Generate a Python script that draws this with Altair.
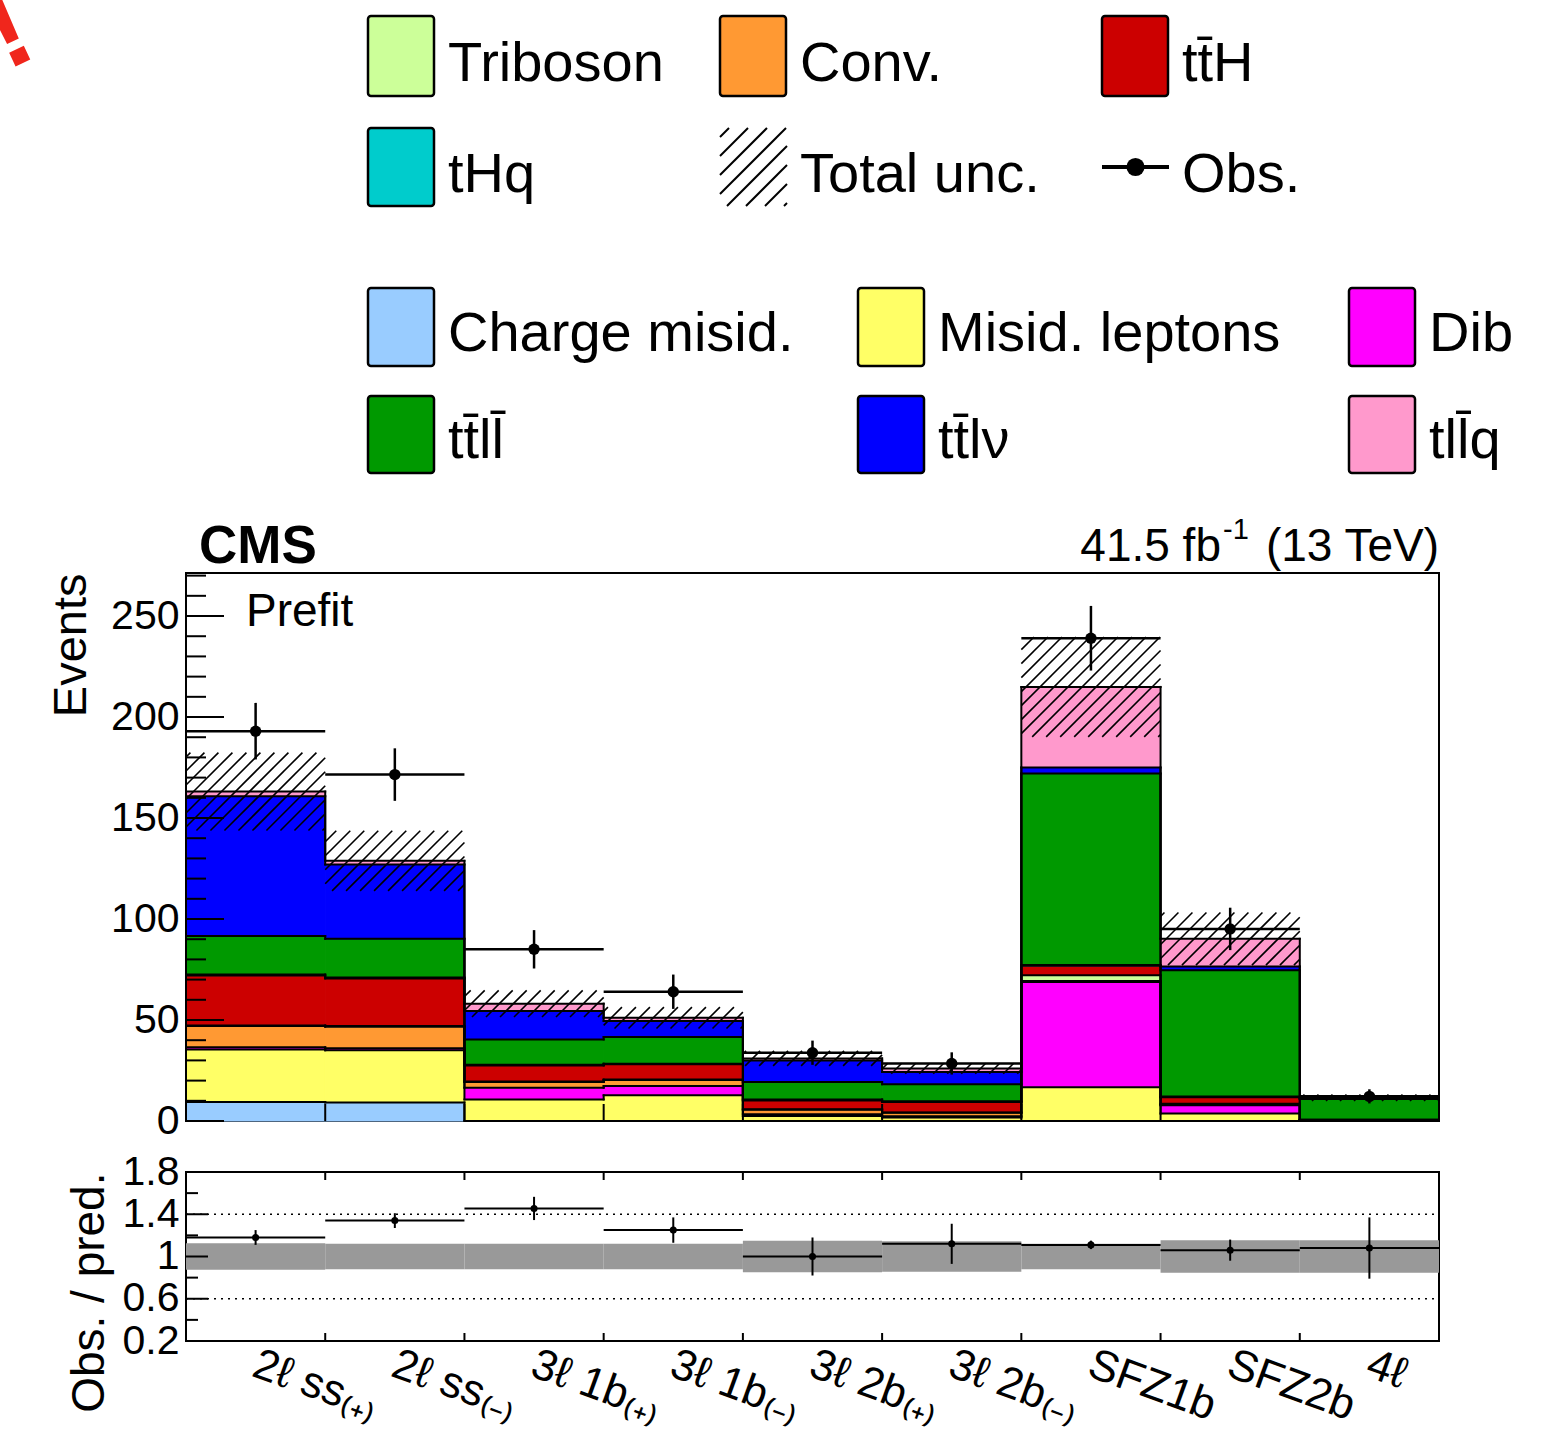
import altair as alt
import numpy as np
import pandas as pd

# ---------------- data ----------------
categories = ["2ℓ ss₍₊₎", "2ℓ ss₍₋₎", "3ℓ 1b₍₊₎", "3ℓ 1b₍₋₎",
              "3ℓ 2b₍₊₎", "3ℓ 2b₍₋₎", "SFZ1b", "SFZ2b", "4ℓ"]

process_names = ["Charge misid.", "Misid. leptons", "Diboson", "Conv.", "Triboson",
                 "tt\u0304H", "tHq", "tt\u0304ll\u0304", "tt\u0304lν", "tll\u0304q"]
process_colors = ["#99ccff", "#ffff66", "#ff00ff", "#ff9933", "#ccff99",
                  "#cc0000", "#00cccc", "#009900", "#0000ff", "#ff99cc"]

charge_misid  = [9.4, 9.2, 0.0, 0.0, 0.0, 0.0, 0.0, 0.0, 0.0]
misid_leptons = [26.0, 25.8, 10.7, 12.7, 2.5, 1.7, 16.7, 3.7, 0.1]
diboson       = [1.1, 1.0, 5.8, 4.6, 0.9, 0.6, 52.1, 4.1, 0.3]
conversions   = [10.5, 10.7, 2.8, 3.0, 2.2, 1.8, 0.5, 0.4, 0.0]
triboson      = [0.3, 0.3, 0.2, 0.2, 0.2, 0.1, 2.8, 0.3, 0.1]
tth           = [24.7, 23.6, 8.0, 7.6, 4.4, 5.2, 4.7, 3.2, 0.1]
thq           = [0.5, 0.4, 0.4, 0.3, 0.5, 0.4, 0.4, 0.4, 0.0]
ttll          = [19.1, 19.2, 12.5, 13.2, 8.6, 8.4, 94.8, 62.5, 10.3]
ttlv          = [69.2, 36.8, 14.1, 7.9, 10.7, 6.1, 3.0, 1.9, 0.2]
tllq          = [2.3, 1.8, 3.6, 1.6, 1.0, 1.7, 39.9, 13.7, 0.4]

total_unc = [19.3, 14.9, 6.6, 5.3, 3.7, 2.6, 24.7, 13.0, 1.6]
obs       = [193.0, 171.5, 85.0, 64.0, 33.8, 28.5, 239.0, 95.1, 12.2]
obs_err   = [14.0, 13.0, 9.5, 8.5, 6.0, 5.5, 16.0, 10.5, 3.5]

ratio      = [1.18, 1.34, 1.455, 1.25, 1.0, 1.12, 1.11, 1.06, 1.08]
ratio_err  = [0.07, 0.07, 0.11, 0.12, 0.18, 0.19, 0.04, 0.10, 0.29]
ratio_band = [0.125, 0.12, 0.12, 0.12, 0.148, 0.145, 0.12, 0.155, 0.155]

main_y_ticks = [0, 50, 100, 150, 200, 250]
ratio_y_ticks = [0.2, 0.6, 1.0, 1.4, 1.8]

# ---------------- layout ----------------
FONT = "Liberation Sans"
W, H, RH = 1253, 548, 169
NB = len(categories)
YMAX = 271.3
RLO, RHI = 0.2, 1.8
GAP = 51
LEG_H = 572 - GAP
BW = W / NB
PY = H / YMAX

xs = alt.Scale(domain=[0, NB], nice=False, zero=False)
ys = alt.Scale(domain=[0, YMAX], nice=False, zero=False)
rs = alt.Scale(domain=[RLO, RHI], nice=False, zero=False)
cscale = alt.Scale(domain=process_names, range=process_colors)

yaxis_main = alt.Axis(values=main_y_ticks, format="d", ticks=False, tickSize=0, domain=False,
                      grid=False, labelFont=FONT, labelFontSize=41, labelColor="black",
                      labelPadding=7, labelOverlap=False, labelBound=False,
                      title="Events", titleFont=FONT, titleFontSize=47,
                      titleFontWeight="normal", titleColor="black", titleAngle=270,
                      titleAlign="right", titleBaseline="middle", titleX=-115, titleY=0)
yaxis_ratio = alt.Axis(values=ratio_y_ticks, format=".1~f", ticks=False, tickSize=0,
                       domain=False, grid=False, labelFont=FONT, labelFontSize=41,
                       labelColor="black", labelPadding=7, labelOverlap=False,
                       labelBound=False, title="Obs. / pred.", titleFont=FONT,
                       titleFontSize=46, titleFontWeight="normal", titleColor="black",
                       titleAngle=270, titleAlign="right", titleBaseline="middle",
                       titleX=-97, titleY=0)
label_expr = "[" + ",".join("'%s'" % c for c in categories) + "][floor(datum.value)]"
xaxis_ratio = alt.Axis(values=[i + 0.5 for i in range(NB)], labelExpr=label_expr,
                       ticks=False, tickSize=0, domain=False, grid=False,
                       labelFont=FONT, labelFontSize=44, labelColor="black",
                       labelAngle=20, labelAlign="left", labelBaseline="top",
                       labelPadding=1, labelOffset=6, labelOverlap=False, labelFlush=False,
                       labelBound=False, title=None)


def X(f):
    return alt.X(f, type="quantitative", scale=xs, axis=None)


def Y(f):
    return alt.Y(f, type="quantitative", scale=ys, axis=yaxis_main)


def RX(f):
    return alt.X(f, type="quantitative", scale=xs, axis=xaxis_ratio)


def RY(f):
    return alt.Y(f, type="quantitative", scale=rs, axis=yaxis_ratio)


def hatch_segments(rects, spacing):
    """Diagonal '/' hatch lines clipped to rectangles given in pixel units (v upward)."""
    segs = []
    for (u0, u1, v0, v1) in rects:
        k0 = int(np.ceil((v0 - u1) / spacing))
        k1 = int(np.floor((v1 - u0) / spacing))
        for k in range(k0, k1 + 1):
            c = k * spacing
            ua = max(u0, v0 - c)
            ub = min(u1, v1 - c)
            if ub - ua > 0.5:
                segs.append((ua, ua + c, ub, ub + c))
    return segs


# ---------------- derived tables ----------------
stack = np.array([charge_misid, misid_leptons, diboson, conversions, triboson,
                  tth, thq, ttll, ttlv, tllq])
tops = np.cumsum(stack, axis=0)
bots = tops - stack
total = tops[-1]

rect_rows, oh_rows, ov_rows = [], [], []
for p, name in enumerate(process_names):
    for i in range(NB):
        if stack[p, i] > 0:
            rect_rows.append(dict(proc=name, x0=i, x1=i + 1, lo=bots[p, i], hi=tops[p, i]))
        oh_rows.append(dict(x0=i, x1=i + 1, y=tops[p, i]))
    for e in range(NB + 1):
        a = tops[p, e - 1] if e > 0 else 0.0
        b = tops[p, e] if e < NB else 0.0
        if abs(a - b) > 1e-9:
            ov_rows.append(dict(x=e, y0=a, y1=b))
df_rect = pd.DataFrame(rect_rows)
df_oh = pd.DataFrame(oh_rows)
df_ov = pd.DataFrame(ov_rows)

h_rects = [(i * BW, (i + 1) * BW, (total[i] - total_unc[i]) * PY, (total[i] + total_unc[i]) * PY)
           for i in range(NB)]
segs = hatch_segments(h_rects, 14.0)
df_hatch = pd.DataFrame([dict(xa=a / BW, ya=b / PY, xb=c / BW, yb=d / PY) for a, b, c, d in segs])

df_obs = pd.DataFrame(dict(x0=np.arange(NB), x1=np.arange(NB) + 1, xc=np.arange(NB) + 0.5,
                           obs=obs, lo=np.array(obs) - np.array(obs_err),
                           hi=np.array(obs) + np.array(obs_err)))
df_ratio = pd.DataFrame(dict(x0=np.arange(NB), x1=np.arange(NB) + 1, xc=np.arange(NB) + 0.5,
                             r=ratio, lo=np.array(ratio) - np.array(ratio_err),
                             hi=np.array(ratio) + np.array(ratio_err),
                             blo=1 - np.array(ratio_band), bhi=1 + np.array(ratio_band)))
df_edges = pd.DataFrame(dict(e=np.arange(1, NB)))
minor_main = [v for v in range(0, 271, 10) if v % 50 != 0]
df_ymaj = pd.DataFrame(dict(v=main_y_ticks))
df_ymin = pd.DataFrame(dict(v=minor_main))
df_rmaj = pd.DataFrame(dict(v=ratio_y_ticks))
df_rmin = pd.DataFrame(dict(v=[0.4, 0.8, 1.2, 1.6]))
df_dot = pd.DataFrame(dict(v=[0.6, 1.4]))

# ---------------- main panel ----------------
fills = alt.Chart(df_rect).mark_rect(strokeWidth=1).encode(
    x=X("x0"), x2=alt.X2("x1"), y=Y("lo"), y2=alt.Y2("hi"),
    fill=alt.Fill("proc:N", scale=cscale, legend=None),
    stroke=alt.Stroke("proc:N", scale=cscale, legend=None))
outl_h = alt.Chart(df_oh).mark_rule(color="black", strokeWidth=2, strokeCap="square").encode(
    x=X("x0"), x2=alt.X2("x1"), y=Y("y"))
outl_v = alt.Chart(df_ov).mark_rule(color="black", strokeWidth=2, strokeCap="square").encode(
    x=X("x"), y=Y("y0"), y2=alt.Y2("y1"))
hatch = alt.Chart(df_hatch).mark_rule(color="black", strokeWidth=1.6).encode(
    x=X("xa"), y=Y("ya"), x2=alt.X2("xb"), y2=alt.Y2("yb"))
d_h = alt.Chart(df_obs).mark_rule(color="black", strokeWidth=2.5).encode(
    x=X("x0"), x2=alt.X2("x1"), y=Y("obs"))
d_v = alt.Chart(df_obs).mark_rule(color="black", strokeWidth=2.5).encode(
    x=X("xc"), y=Y("lo"), y2=alt.Y2("hi"))
d_p = alt.Chart(df_obs).mark_circle(size=130, color="black", opacity=1).encode(
    x=X("xc"), y=Y("obs"))
t_maj = alt.Chart(df_ymaj).mark_rule(color="black", strokeWidth=2).encode(
    y=Y("v"), x=alt.value(0), x2=alt.value(38))
t_min = alt.Chart(df_ymin).mark_rule(color="black", strokeWidth=2).encode(
    y=Y("v"), x=alt.value(0), x2=alt.value(20))
t_x = alt.Chart(df_edges).mark_rule(color="black", strokeWidth=2).encode(
    x=X("e"), y=alt.value(H), y2=alt.value(H - 17))
prefit = alt.Chart(pd.DataFrame(dict(t=["Prefit"]))).mark_text(
    font=FONT, fontSize=46, align="left", baseline="alphabetic", color="black").encode(
    text="t:N", x=alt.value(60), y=alt.value(53))

main = alt.layer(fills, outl_h, outl_v, hatch, d_h, d_v, d_p, t_maj, t_min, t_x, prefit).properties(
    width=W, height=H, view=alt.ViewBackground(stroke="black", strokeWidth=2))

# ---------------- ratio panel ----------------
band = alt.Chart(df_ratio).mark_rect(color="#999999", strokeWidth=0).encode(
    x=RX("x0"), x2=alt.X2("x1"), y=RY("blo"), y2=alt.Y2("bhi"))
dots = alt.Chart(df_dot).mark_rule(color="black", strokeWidth=1.6, strokeDash=[2, 5]).encode(
    y=RY("v"), x=alt.value(0), x2=alt.value(W))
r_h = alt.Chart(df_ratio).mark_rule(color="black", strokeWidth=2).encode(
    x=RX("x0"), x2=alt.X2("x1"), y=RY("r"))
r_v = alt.Chart(df_ratio).mark_rule(color="black", strokeWidth=2).encode(
    x=RX("xc"), y=RY("lo"), y2=alt.Y2("hi"))
r_p = alt.Chart(df_ratio).mark_circle(size=50, color="black", opacity=1).encode(
    x=RX("xc"), y=RY("r"))
r_maj = alt.Chart(df_rmaj).mark_rule(color="black", strokeWidth=2).encode(
    y=RY("v"), x=alt.value(0), x2=alt.value(22))
r_min = alt.Chart(df_rmin).mark_rule(color="black", strokeWidth=2).encode(
    y=RY("v"), x=alt.value(0), x2=alt.value(12))
r_xb = alt.Chart(df_edges).mark_rule(color="black", strokeWidth=2).encode(
    x=RX("e"), y=alt.value(RH), y2=alt.value(RH - 8))
r_xt = alt.Chart(df_edges).mark_rule(color="black", strokeWidth=2).encode(
    x=RX("e"), y=alt.value(0), y2=alt.value(8))

ratio_panel = alt.layer(band, dots, r_h, r_v, r_p, r_maj, r_min, r_xb, r_xt).properties(
    width=W, height=RH, view=alt.ViewBackground(stroke="black", strokeWidth=2))

# ---------------- legend / header panel (page pixel coordinates) ----------------
lx = alt.Scale(domain=[185, 185 + W], nice=False, zero=False)
ly = alt.Scale(domain=[0, LEG_H], nice=False, zero=False, reverse=True)


def LX(f):
    return alt.X(f, type="quantitative", scale=lx, axis=None)


def LY(f):
    return alt.Y(f, type="quantitative", scale=ly, axis=None)


BOXW = 66
blocks = [
    # (labels, kinds, column x, box rows (top,bottom), text baselines)
    (["Triboson", "Conv.", "tt\u0304H", "tHq", "Total unc.", "Obs."],
     ["box", "box", "box", "box", "hatch", "obs"],
     [367, 719, 1101], [(15, 95), (127, 205)], [80, 191]),
    (["Charge misid.", "Misid. leptons", "Diboson", "tt\u0304ll\u0304", "tt\u0304lν", "tll\u0304q"],
     ["box"] * 6,
     [367, 857, 1348], [(287, 365), (395, 472)], [350, 457]),
]
box_rows, text_rows = [], []
leg_hatch_rects, obs_sym = [], None
for labels, kinds, cols, rows_, bases in blocks:
    for k, (lab, kind) in enumerate(zip(labels, kinds)):
        r, c = divmod(k, 3)
        bx = cols[c]
        y0, y1 = rows_[r]
        if kind == "box":
            box_rows.append(dict(label=lab, x0=bx, x1=bx + BOXW, y0=y0, y1=y1))
        elif kind == "hatch":
            leg_hatch_rects.append((bx, bx + 67, -y1, -y0))
        else:
            obs_sym = (bx, bx + 67, (y0 + y1) / 2)
        text_rows.append(dict(label=lab, tx=bx + 80, ty=bases[r]))
df_box = pd.DataFrame(box_rows)
df_text = pd.DataFrame(text_rows)
df_text_main = df_text[df_text.label != "Diboson"]
df_text_cut = df_text[df_text.label == "Diboson"]
lsegs = hatch_segments(leg_hatch_rects, 19.0)
df_lhatch = pd.DataFrame([dict(xa=a, ya=-b, xb=c, yb=-d) for a, b, c, d in lsegs])
df_obsline = pd.DataFrame([dict(x0=obs_sym[0], x1=obs_sym[1], y=obs_sym[2],
                                xc=(obs_sym[0] + obs_sym[1]) / 2)])

leg_boxes = alt.Chart(df_box).mark_rect(stroke="black", strokeWidth=2.5, cornerRadius=3).encode(
    x=LX("x0"), x2=alt.X2("x1"), y=LY("y0"), y2=alt.Y2("y1"),
    fill=alt.Fill("label:N", scale=cscale, legend=None))
leg_text = alt.Chart(df_text_main).mark_text(
    font=FONT, fontSize=56, align="left", baseline="alphabetic", color="black").encode(
    x=LX("tx"), y=LY("ty"), text="label:N")
leg_text_cut = alt.Chart(df_text_cut).mark_text(
    font=FONT, fontSize=56, align="left", baseline="alphabetic", color="black",
    limit=110, ellipsis=" ").encode(x=LX("tx"), y=LY("ty"), text="label:N")
leg_hatch = alt.Chart(df_lhatch).mark_rule(color="black", strokeWidth=2).encode(
    x=LX("xa"), y=LY("ya"), x2=alt.X2("xb"), y2=alt.Y2("yb"))
leg_obs_line = alt.Chart(df_obsline).mark_rule(color="black", strokeWidth=4).encode(
    x=LX("x0"), x2=alt.X2("x1"), y=LY("y"))
leg_obs_pt = alt.Chart(df_obsline).mark_circle(size=330, color="black", opacity=1).encode(
    x=LX("xc"), y=LY("y"))

cms = alt.Chart(pd.DataFrame(dict(t=["CMS"], x=[198], y=[562]))).mark_text(
    font=FONT, fontSize=53, fontWeight="bold", align="left", baseline="alphabetic",
    color="black").encode(x=LX("x"), y=LY("y"), text="t:N")
lumi_a = alt.Chart(pd.DataFrame(dict(t=["41.5 fb"], x=[1220], y=[560]))).mark_text(
    font=FONT, fontSize=46, align="right", baseline="alphabetic", color="black").encode(
    x=LX("x"), y=LY("y"), text="t:N")
lumi_b = alt.Chart(pd.DataFrame(dict(t=["-1"], x=[1222], y=[538]))).mark_text(
    font=FONT, fontSize=29, align="left", baseline="alphabetic", color="black").encode(
    x=LX("x"), y=LY("y"), text="t:N")
lumi_c = alt.Chart(pd.DataFrame(dict(t=["(13 TeV)"], x=[1438], y=[560]))).mark_text(
    font=FONT, fontSize=46, align="right", baseline="alphabetic", color="black").encode(
    x=LX("x"), y=LY("y"), text="t:N")
bang = alt.Chart(pd.DataFrame(dict(t=["!"], x=[22], y=[62]))).mark_text(
    font=FONT, fontSize=115, fontWeight="bold", align="center", baseline="alphabetic",
    color="#f0261c", angle=335).encode(x=LX("x"), y=LY("y"), text="t:N")
anchor = alt.Chart(pd.DataFrame(dict(x0=[0], x1=[1], y0=[0], y1=[1]))).mark_rect(
    color="white", strokeWidth=0).encode(x=LX("x0"), x2=alt.X2("x1"), y=LY("y0"), y2=alt.Y2("y1"))

legend_panel = alt.layer(anchor, leg_boxes, leg_hatch, leg_obs_line, leg_obs_pt, leg_text,
                         leg_text_cut, cms, lumi_a, lumi_b, lumi_c, bang).properties(
    width=W, height=LEG_H, view=alt.ViewBackground(strokeOpacity=0, fillOpacity=0))

chart = alt.vconcat(legend_panel, main, ratio_panel, spacing=GAP, bounds="flush").properties(
    padding={"left": -34, "top": -29, "right": 0, "bottom": 0}
).configure(background="white", font=FONT)

chart.save("out.html", embed_options={"renderer": "svg", "actions": False})
